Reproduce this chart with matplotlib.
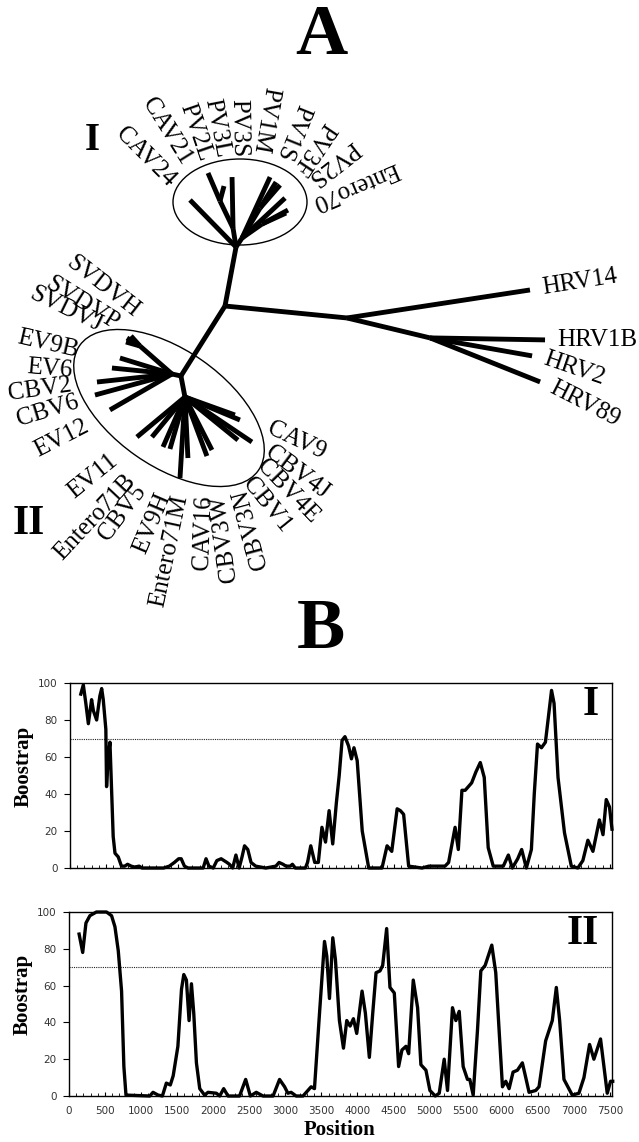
import numpy as np
import matplotlib
matplotlib.use("Agg")
import matplotlib.pyplot as plt
from matplotlib.patches import Ellipse

# ------------------------------------------------------------------ data
# phylogenetic tree: node, parent, branch length, branch angle (deg, CCW)
tree_node = ['H1', 'HRV14', 'H2', 'HRV1B', 'HRV2', 'HRV89',
             'C1', 'CAV24', 'M', 'M2', 'CAV21', 'PV2L', 'PV3L', 'Q', 'PV3S',
             'Q1', 'PV1M', 'PV1S', 'PV3F', 'Q2', 'PV2S', 'Entero70',
             'N2', 'F1', 'S', 'SVDVH', 'SVDVP', 'SVDVJ', 'EV9B', 'EV6', 'CBV2',
             'CBV6', 'EV12', 'N3', 'EV11', 'Entero71B', 'CBV5', 'EV9H',
             'Entero71M', 'CAV16', 'CBV3W', 'CBV3N', 'CBV1', 'CBV4E', 'CBV4J',
             'CAV9']
tree_parent = ['R', 'H1', 'H1', 'H2', 'H2', 'H2',
               'R', 'C1', 'C1', 'M', 'M2', 'M2', 'M', 'C1', 'Q',
               'Q', 'Q1', 'Q1', 'Q', 'Q', 'Q2', 'Q2',
               'R', 'N2', 'F1', 'S', 'S', 'S', 'F1', 'F1', 'F1',
               'F1', 'F1', 'N2', 'N3', 'N3', 'N3', 'N3',
               'N3', 'N3', 'N3', 'N3', 'N3', 'N3', 'N3',
               'N3']
tree_length = [122.6, 185.1, 85.4, 115.0, 103.6, 118.5,
               60.0, 65.8, 19.2, 30.0, 30.5, 15.5, 51.0, 10.8, 67.1,
               35.0, 30.5, 30.5, 58.7, 24.4, 29.5, 26.4,
               82.7, 9.2, 42.5, 13.5, 15.3, 14.6, 54.4, 60.3, 75.4,
               79.8, 71.7, 21.4, 62.5, 51.9, 54.6, 54.1,
               81.2, 61.1, 63.0, 59.5, 68.3, 80.7, 59.6,
               53.1]
tree_angle = [-5.6, 8.7, -13.5, -1.0, -10.0, -21.8,
              79.4, 134.4, 99.0, 115.7, 113.2, 75.1, 91.1, 56.3, 65.3,
              59.0, 49.0, 58.4, 42.9, 35.0, 28.3, 24.6,
              -122.2, 167.5, 138.8, 131.9, 148.4, 164.1, 162.9, 174.3, 186.1,
              195.3, 210.1, -79.2, 219.8, 230.5, 246.3, 253.9,
              266.5, 272.8, 290.4, 297.0, 320.9, 326.1, 337.3,
              340.2]

# leaf labels
hrv_names = ['HRV14', 'HRV1B', 'HRV2', 'HRV89']
hrv_text_angle = [9, 0, -19, -27]

c1_names = ['CAV24', 'CAV21', 'PV2L', 'PV3L', 'PV3S', 'PV1M', 'PV1S',
            'PV3F', 'PV2S', 'Entero70']
c1_text_angle = [135, 122, 109, 101, 91, 80, 68, 56, 38, 23]

c2_names = ['SVDVH', 'SVDVP', 'SVDVJ', 'EV9B', 'EV6', 'CBV2', 'CBV6', 'EV12',
            'EV11', 'Entero71B', 'CBV5', 'EV9H', 'Entero71M', 'CAV16',
            'CBV3W', 'CBV3N', 'CBV1', 'CBV4E', 'CBV4J', 'CAV9']
c2_text_angle = [142, 148, 154, 167, 175, 188, 197, 207,
                 219, 227, 233, 247, 258, 268, 278, 285, -51, -46, -37, -25]

# bootscan curves (position, bootstrap %)
pos_I = [150, 185, 220, 255, 300, 325, 370, 415, 440, 462, 498, 508, 530, 555,
         578, 600, 625, 670, 715, 760, 800, 850, 900, 960, 1000, 1300, 1380,
         1450, 1510, 1545, 1590, 1640, 1850, 1890, 1930, 1990, 2040, 2100,
         2180, 2215, 2260, 2305, 2350, 2390, 2425, 2470, 2515, 2580, 2720,
         2860, 2905, 2960, 3000, 3060, 3090, 3130, 3270, 3300, 3345, 3400,
         3450, 3500, 3550, 3600, 3650, 3700, 3740, 3780, 3820, 3870, 3910,
         3945, 3990, 4060, 4150, 4335, 4405, 4470, 4545, 4590, 4635, 4705,
         4890, 4985, 5210, 5260, 5350, 5395, 5445, 5490, 5580, 5640, 5700,
         5755, 5810, 5880, 6020, 6090, 6145, 6220, 6275, 6340, 6410, 6450,
         6495, 6550, 6605, 6690, 6725, 6780, 6870, 6965, 7055, 7125, 7195,
         7265, 7355, 7405, 7450, 7495, 7530]
boot_I = [94, 99, 89, 78, 91, 85, 80, 93, 97, 91, 75, 44, 60, 68,
          42, 17, 8, 6, 1, 1, 2, 1, 0.5, 1, 0, 0, 1,
          3, 5, 5, 1, 0, 0, 5, 1, 0, 4, 5,
          3, 2, 0, 7, 0, 6, 12, 10, 3, 1, 0,
          1, 3, 2, 1, 1, 2, 0, 0, 3, 12, 3,
          3, 22, 14, 31, 13, 35, 50, 69, 71, 66, 59,
          65, 58, 20, 0, 0, 12, 9, 32, 31, 29, 1,
          0, 1, 1, 3, 22, 10, 42, 42, 46, 52, 57,
          49, 11, 1, 1, 7, 0, 5, 10, 0, 10, 40,
          67, 65, 68, 96, 89, 49, 19, 1, 0, 4, 15,
          9, 26, 18, 37, 33, 21]

pos_II = [140, 190, 235, 290, 380, 520, 590, 637, 683, 729, 761, 790, 1120,
          1165, 1235, 1295, 1350, 1405, 1445, 1510, 1560, 1592, 1628, 1665,
          1698, 1730, 1767, 1813, 1880, 1928, 2044, 2090, 2145, 2205, 2365,
          2450, 2515, 2597, 2690, 2830, 2920, 2990, 3035, 3080, 3150, 3245,
          3358, 3404, 3474, 3543, 3575, 3612, 3658, 3695, 3750, 3806, 3852,
          3898, 3944, 3990, 4064, 4110, 4165, 4212, 4258, 4313, 4350, 4405,
          4451, 4511, 4571, 4617, 4673, 4710, 4774, 4834, 4880, 4950, 5005,
          5079, 5134, 5203, 5249, 5318, 5365, 5411, 5466, 5526, 5558, 5605,
          5665, 5711, 5771, 5863, 5918, 5964, 6011, 6057, 6103, 6158, 6218,
          6287, 6334, 6380, 6472, 6518, 6610, 6702, 6758, 6804, 6864, 6979,
          7071, 7141, 7219, 7279, 7371, 7464, 7510, 7540]
boot_II = [88, 78, 94, 98, 100, 100, 98, 92, 79, 57, 16, 0.5, 0,
           2, 0.5, 0, 7, 6, 11, 27, 58, 66, 63, 41,
           61, 45, 18, 4, 0.5, 2, 1.5, 0, 4, 0, 0,
           9, 0, 2, 0, 0, 9, 5, 1.5, 2, 0, 0,
           5, 4, 45, 84, 76, 53, 86, 74, 41, 26, 41,
           38, 42, 34, 57, 45, 21, 45, 67, 68, 71, 91,
           59, 56, 16, 25, 27, 23, 63, 48, 17, 14, 3,
           0, 1.5, 20, 3, 48, 41, 46, 16, 9, 9, 0.5,
           36, 68, 71, 82, 67, 36, 5, 8, 4, 13, 14,
           18, 10, 2, 3, 5, 30, 41, 59, 41, 9, 0.5,
           1.5, 10, 28, 20, 31, 1.5, 8, 8]

x_ticks = list(range(0, 7501, 500))
y_ticks = [0, 20, 40, 60, 80, 100]

# ------------------------------------------------------------------ layout
W, H = 639, 1142
SERIF = ['Liberation Serif', 'DejaVu Serif']
fig = plt.figure(figsize=(W / 100, H / 100), dpi=100)

axA = fig.add_axes([0, 0, 1, 1])
axA.set_xlim(0, W)
axA.set_ylim(H, 0)
axA.axis('off')

root = (225.0, 306.0)
pos = {'R': root}
for n, p, L, a in zip(tree_node, tree_parent, tree_length, tree_angle):
    px, py = pos[p]
    r = np.deg2rad(a)
    pos[n] = (px + L * np.cos(r), py - L * np.sin(r))
    axA.plot([px, pos[n][0]], [py, pos[n][1]], color='k', lw=3.5,
             solid_capstyle='butt', solid_joinstyle='miter')

axA.add_patch(Ellipse((240, 202), 134, 86, fill=False, lw=1.0, ec='k'))
axA.add_patch(Ellipse((169, 408), 218, 116, angle=35, fill=False, lw=1.0,
                      ec='k'))

LABEL_FS = 18


def put_label(x, y, name, theta):
    t = theta % 360
    if 20 < t < 300:
        axA.text(x, y, name, rotation=t + 180, rotation_mode='anchor',
                 ha='right', va='center', fontsize=LABEL_FS, family=SERIF)
    else:
        axA.text(x, y, name, rotation=theta, rotation_mode='anchor',
                 ha='left', va='center', fontsize=LABEL_FS, family=SERIF)


# HRV labels: just beyond the tips
for name, th in zip(hrv_names, hrv_text_angle):
    i = tree_node.index(name)
    a = np.deg2rad(tree_angle[i])
    tx, ty = pos[name]
    put_label(tx + 12 * np.cos(a), ty - 12 * np.sin(a), name, th)

# cluster I labels on an arc
c1_center = (238, 245)
c1_phi = [137, 122, 111, 100, 89, 77, 63, 51, 42, 29]
c1_rad = [90, 97, 91, 89, 88, 95, 96, 93, 97, 86]
for name, th, ph, rr in zip(c1_names, c1_text_angle, c1_phi, c1_rad):
    a = np.deg2rad(ph)
    put_label(c1_center[0] + rr * np.cos(a), c1_center[1] - rr * np.sin(a),
              name, th)

# cluster II labels around the ellipse
c2_center = (169, 408)
c2_phi = [108.6, 122, 130, 148, 159, 167, 176, 192, 223, 242, 251, 267, 278,
          292, 299, 311, 317, 329, 337, 349]
c2_rad = [100, 98, 106, 107, 104, 100, 91, 83, 74, 79, 84, 86, 88, 94, 100,
          108, 106, 106, 107, 101]
for name, th, ph, rr in zip(c2_names, c2_text_angle, c2_phi, c2_rad):
    a = np.deg2rad(ph)
    put_label(c2_center[0] + rr * np.cos(a), c2_center[1] - rr * np.sin(a),
              name, th)

axA.text(92, 140, 'I', fontsize=28, fontweight='bold', family=SERIF,
         ha='center', va='center')
axA.text(29, 524, 'II', fontsize=30, fontweight='bold', family=SERIF,
         ha='center', va='center')
axA.text(321, 36, 'A', fontsize=52, fontweight='bold', family=SERIF,
         ha='center', va='center')
axA.text(321, 631, 'B', fontsize=52, fontweight='bold', family=SERIF,
         ha='center', va='center')


# ------------------------------------------------------------------ panel B
def make_axes(left, right, top, bottom):
    return fig.add_axes([left / W, 1 - bottom / H, (right - left) / W,
                         (bottom - top) / H])


ax1 = make_axes(70, 612, 683, 868)
ax2 = make_axes(69, 612, 912, 1096)

for ax, xs, ys, tag, show in [(ax1, pos_I, boot_I, 'I', False),
                              (ax2, pos_II, boot_II, 'II', True)]:
    ax.plot(xs, ys, color='k', lw=2.4, solid_joinstyle='round',
            clip_on=False, zorder=3)
    ax.axhline(70, ls=(0, (1, 1)), lw=0.8, color='#222', zorder=2)
    ax.set_xlim(0, 7530)
    ax.set_ylim(0, 100)
    ax.set_yticks(y_ticks)
    ax.set_xticks(x_ticks)
    ax.set_xticks(list(range(0, 7501, 100)), minor=True)
    ax.tick_params(axis='x', which='major', direction='in', length=3,
                   width=0.8, pad=7, labelsize=7.5, labelcolor='#333',
                   labelbottom=show)
    ax.tick_params(axis='x', which='minor', direction='in', length=2,
                   width=0.6)
    ax.tick_params(axis='y', direction='out', length=4, width=0.8, pad=5,
                   labelsize=7.5, labelcolor='#333')
    for s in ax.spines.values():
        s.set_linewidth(1.0)
    ax.text(0.975, 0.88, tag, transform=ax.transAxes, ha='right',
            va='center', fontsize=30, fontweight='bold', family=SERIF)
    ax.text(-0.085, 0.55, 'Boostrap', transform=ax.transAxes, rotation=90,
            ha='center', va='center', fontsize=15, fontweight='bold',
            family=SERIF)

fig.text(340 / W, 1 - 1130 / H, 'Position', ha='center', va='center',
         fontsize=15, fontweight='bold', family=SERIF)

fig.savefig('out.png', dpi=100)
